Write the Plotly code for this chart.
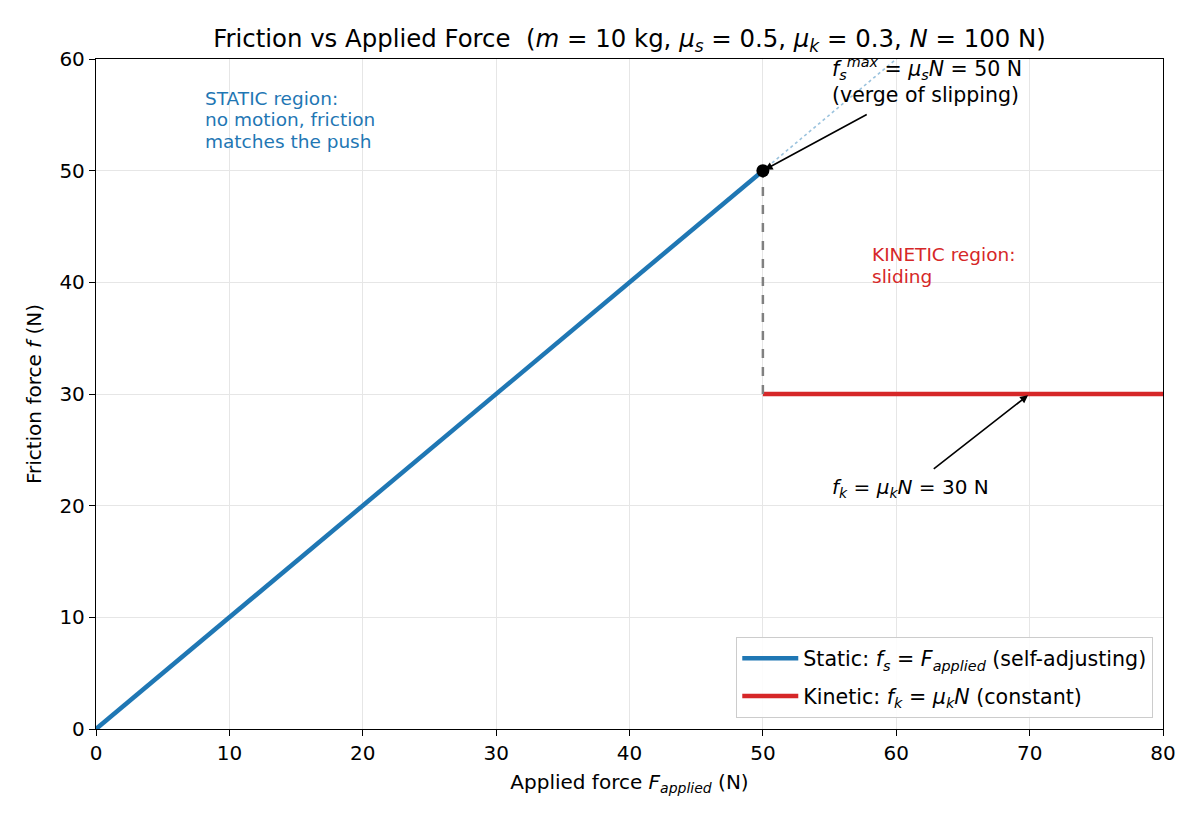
import plotly.graph_objects as go

# ---- data ----
F_static = [0, 50]
f_static = [0, 50]
F_ext = [50, 80]
f_ext = [50, 80]
F_kinetic = [50, 80]
f_kinetic = [30, 30]
F_jump = [50, 50]
f_jump = [30, 50]
peak_F = [50]
peak_f = [50]
x_ticks = [0, 10, 20, 30, 40, 50, 60, 70, 80]
y_ticks = [0, 10, 20, 30, 40, 50, 60]
static_lines = ["STATIC region:", "no motion, friction", "matches the push"]
static_line_y = [56.5, 54.6, 52.65]
kinetic_lines = ["KINETIC region:", "sliding"]
kinetic_line_y = [42.45, 40.55]

FONT = "DejaVu Sans"
BLUE = "#1f77b4"
RED = "#d62728"

fig = go.Figure()
fig.add_trace(go.Scatter(x=F_ext, y=f_ext, mode="lines",
                         line=dict(color="rgba(31,119,180,0.45)", width=1.6, dash="dot"),
                         showlegend=False, hoverinfo="skip"))
fig.add_trace(go.Scatter(x=F_static, y=f_static, mode="lines", legendgroup="s",
                         line=dict(color=BLUE, width=4.5),
                         name="Static: <i>f<sub>s</sub></i> = <i>F<sub>applied</sub></i> (self-adjusting)"))
fig.add_trace(go.Scatter(x=F_kinetic, y=f_kinetic, mode="lines", legendgroup="k",
                         line=dict(color=RED, width=4.5),
                         name="Kinetic: <i>f<sub>k</sub></i> = <i>μ<sub>k</sub>N</i> (constant)"))
fig.add_trace(go.Scatter(x=F_jump, y=f_jump, mode="lines",
                         line=dict(color="gray", width=2.5, dash="dash"),
                         showlegend=False, hoverinfo="skip"))
fig.add_trace(go.Scatter(x=peak_F, y=peak_f, mode="markers",
                         marker=dict(color="black", size=13),
                         showlegend=False))

annotations = []
for txt, yy in zip(static_lines, static_line_y):
    annotations.append(dict(x=8, y=yy, xref="x", yref="y", xanchor="left", yanchor="middle",
                            showarrow=False, text=txt,
                            font=dict(family=FONT, size=18.5, color=BLUE)))
for txt, yy in zip(kinetic_lines, kinetic_line_y):
    annotations.append(dict(x=58, y=yy, xref="x", yref="y", xanchor="left", yanchor="middle",
                            showarrow=False, text=txt,
                            font=dict(family=FONT, size=18.5, color=RED)))
annotations += [
    dict(x=55, y=55.5, xref="x", yref="y", xanchor="left", yanchor="bottom", align="left",
         showarrow=False,
         text="<i>f<sub>s</sub><sup>max</sup></i> = <i>μ<sub>s</sub>N</i> = 50 N<br>(verge of slipping)",
         font=dict(family=FONT, size=20.5, color="black")),
    dict(x=55, y=21.6, xref="x", yref="y", xanchor="left", yanchor="middle", align="left",
         showarrow=False,
         text="<i>f<sub>k</sub></i> = <i>μ<sub>k</sub>N</i> = 30 N",
         font=dict(family=FONT, size=20, color="black")),
    dict(x=50, y=50, ax=57.9, ay=55.1, xref="x", yref="y", axref="x", ayref="y",
         text="", showarrow=True, arrowhead=2, arrowsize=1, arrowwidth=1.6, arrowcolor="black",
         standoff=2),
    dict(x=70, y=30, ax=62.7, ay=23.2, xref="x", yref="y", axref="x", ayref="y",
         text="", showarrow=True, arrowhead=2, arrowsize=1, arrowwidth=1.6, arrowcolor="black",
         standoff=2),
]

axis_common = dict(
    showline=True, linecolor="black", linewidth=1.3, mirror=True,
    ticks="outside", ticklen=6, tickwidth=1.3, tickcolor="black",
    showgrid=True, gridcolor="#e6e6e6", gridwidth=1.2, zeroline=False,
    tickfont=dict(family=FONT, size=20, color="black"),
)

fig.update_layout(
    width=1200, height=825,
    margin=dict(l=96, r=37, t=59, b=96),
    plot_bgcolor="white", paper_bgcolor="white",
    font=dict(family=FONT, color="black"),
    title=dict(text="Friction vs Applied Force  (<i>m</i> = 10 kg, <i>μ<sub>s</sub></i> = 0.5, <i>μ<sub>k</sub></i> = 0.3, <i>N</i> = 100 N)",
               x=0.5, xanchor="center", xref="paper", y=1 - 38 / 825, yanchor="middle", yref="container",
               font=dict(family=FONT, size=24.4, color="black")),
    xaxis=dict(range=[0, 80], tickvals=x_ticks,
               title=dict(text="Applied force <i>F<sub>applied</sub></i> (N)", font=dict(family=FONT, size=20), standoff=10),
               **axis_common),
    yaxis=dict(range=[0, 60], tickvals=y_ticks,
               title=dict(text="Friction force <i>f</i> (N)", font=dict(family=FONT, size=20), standoff=12),
               **axis_common),
    legend=dict(x=0.9906, y=0.0164, xanchor="right", yanchor="bottom",
                bgcolor="rgba(255,255,255,0.85)", bordercolor="#cccccc", borderwidth=1.3,
                font=dict(family=FONT, size=20.6, color="black"), itemwidth=56, tracegroupgap=8),
    annotations=annotations,
)

fig.write_html("out.html")
